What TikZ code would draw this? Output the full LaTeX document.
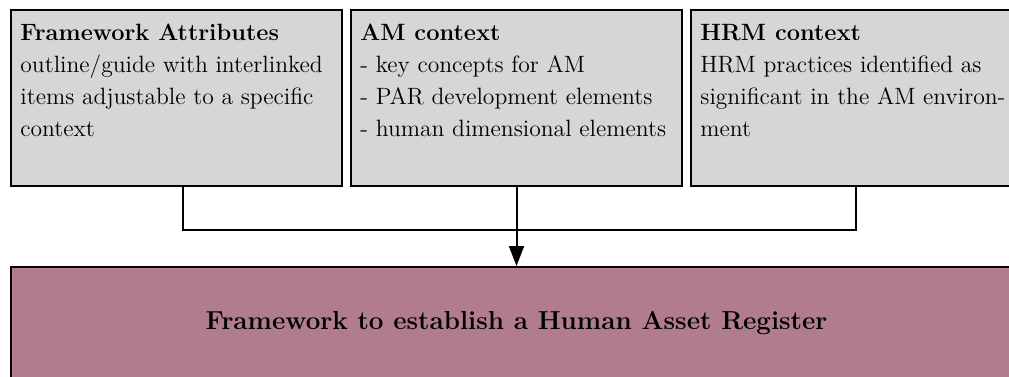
\documentclass[tikz,border=0pt]{standalone}
\usetikzlibrary{arrows.meta,calc}
\definecolor{boxgray}{HTML}{D6D6D6}
\definecolor{mauve}{HTML}{B07C8E}
\begin{document}
\begin{tikzpicture}[x=0.5pt,y=-0.5pt,
  box/.style={draw=black,line width=1pt,fill=boxgray,minimum width=165.5pt,minimum height=88pt,anchor=north west,inner sep=0pt},
  boxtext/.style={anchor=north west,align=left,inner sep=0pt,font=\fontsize{11.8}{16}\selectfont},
  resultbox/.style={draw=black,line width=1pt,fill=mauve,minimum width=505.5pt,minimum height=56pt,anchor=north west,inner sep=0pt,font=\fontsize{13}{16}\selectfont\bfseries},
  conn/.style={draw=black,line width=1pt}]
\clip (0,0) rectangle (1009,376);
\node[box] (b1) at (10,9) {};
\node[box] (b2) at (350,9) {};
\node[box] (b3) at (690,9) {};
\node[boxtext] (t1) at ($(b1.north west)+(10,15)$) {\textbf{Framework Attributes}\\outline/guide with interlinked\\items adjustable to a specific\\context};
\node[boxtext] (t2) at ($(b2.north west)+(10,15)$) {\textbf{AM context}\\- key concepts for AM\\- PAR development elements\\- human dimensional elements};
\node[boxtext] (t3) at ($(b3.north west)+(10,15)$) {\textbf{HRM context}\\HRM practices identified as\\significant in the AM environ-\\ment};
\node[resultbox] (res) at (10,266) {Framework to establish a Human Asset Register};
\coordinate (s1) at ($(b1.south)+(6,0)$);
\coordinate (s3) at ($(b3.south)+(-1,0)$);
\coordinate (j) at ($(b2.south)+(0,43)$);
\draw[conn] (s1) |- (j) -| (s3);
\draw[conn,-{Triangle[length=10pt,width=7.5pt]}] (b2.south) -- (res.north);
\end{tikzpicture}
\end{document}
